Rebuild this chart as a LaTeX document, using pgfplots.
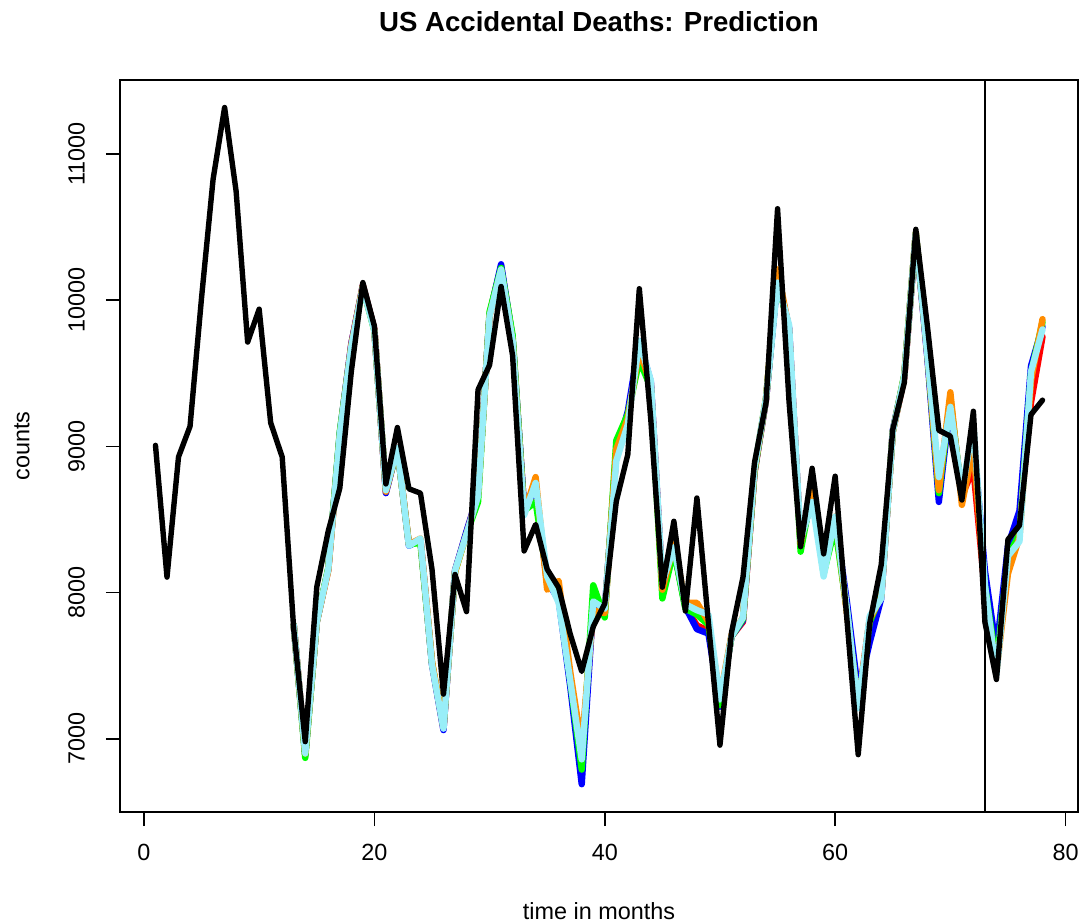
\documentclass[border=0pt]{standalone}
\usepackage{fontspec}
\setmainfont{Liberation Sans}
\usepackage{pgfplots}
\usepackage{pgfplotstable}
\pgfplotsset{compat=1.18}

\definecolor{rred}{RGB}{255,0,0}
\definecolor{rblue}{RGB}{0,0,255}
\definecolor{rgreen}{RGB}{0,255,0}
\definecolor{rorange}{RGB}{255,140,0}
\definecolor{rcyan}{RGB}{152,238,248}

% monthly US accidental deaths, 1973--1979 (first six months of 1979 held out)
\pgfplotstableread{
x y
1 9007
2 8106
3 8928
4 9137
5 10017
6 10826
7 11317
8 10744
9 9713
10 9938
11 9161
12 8927
13 7750
14 6981
15 8038
16 8422
17 8714
18 9512
19 10120
20 9823
21 8743
22 9129
23 8710
24 8680
25 8162
26 7306
27 8124
28 7870
29 9387
30 9556
31 10093
32 9620
33 8285
34 8466
35 8160
36 8034
37 7717
38 7461
39 7767
40 7925
41 8623
42 8945
43 10078
44 9179
45 8037
46 8488
47 7874
48 8647
49 7792
50 6957
51 7726
52 8106
53 8890
54 9299
55 10625
56 9302
57 8314
58 8850
59 8265
60 8796
61 7836
62 6892
63 7791
64 8192
65 9115
66 9434
67 10484
68 9827
69 9110
70 9070
71 8633
72 9240
73 7798
74 7406
75 8363
76 8460
77 9217
78 9316
}\observed

% fitted values and forecasts of the competing models
\pgfplotstableread{
x cyan red blue green orange
13 7780 7780 7780 7780 7780
14 6900 6890 6890 6870 6900
15 7800 7800 7800 7800 7800
16 8160 8160 8160 8170 8150
17 9080 9080 9090 9100 9070
18 9680 9700 9700 9680 9690
19 10090 10100 10100 10090 10100
20 9790 9800 9800 9790 9800
21 8700 8690 8680 8700 8690
22 8990 8990 8990 8980 8990
23 8320 8330 8320 8330 8330
24 8370 8360 8360 8340 8370
25 7510 7520 7510 7520 7530
26 7070 7070 7060 7080 7080
27 8150 8150 8150 8140 8140
28 8400 8410 8420 8400 8400
29 8660 8670 8670 8620 8670
30 9890 9900 9900 9920 9890
31 10210 10230 10245 10220 10200
32 9720 9730 9740 9760 9720
33 8530 8580 8580 8560 8540
34 8750 8700 8710 8620 8790
35 8110 8060 8080 8100 8020
36 7930 8000 7950 7960 8080
37 7400 7420 7360 7400 7460
38 6860 6870 6690 6790 6950
39 7940 7900 7920 8050 7880
40 7890 7850 7880 7830 7860
41 8900 8950 8960 9040 8980
42 9150 9200 9240 9220 9190
43 9720 9700 9720 9590 9660
44 9450 9430 9440 9400 9420
45 8070 8050 8040 7960 8020
46 8310 8300 8300 8290 8330
47 7920 7900 7900 7890 7930
48 7880 7775 7750 7850 7930
49 7850 7740 7720 7780 7800
50 7270 7230 7220 7230 7280
51 7700 7700 7700 7700 7710
52 7830 7800 7810 7820 7830
53 8850 8820 8830 8830 8840
54 9330 9320 9320 9330 9330
55 10120 10170 10150 10170 10210
56 9830 9800 9810 9770 9800
57 8360 8330 8330 8280 8330
58 8620 8680 8660 8700 8730
59 8110 8140 8150 8130 8140
60 8520 8500 8500 8450 8520
61 7900 7880 7950 7890 7880
62 7210 7250 7320 7220 7220
63 7840 7820 7660 7800 7820
64 7960 7980 7960 7990 7970
65 9100 9100 9110 9100 9100
66 9480 9470 9480 9490 9480
67 10460 10460 10450 10460 10460
68 9630 9620 9610 9640 9640
69 8790 8700 8620 8680 8700
70 9270 9300 9300 9330 9370
71 8690 8660 8650 8650 8600
72 9150 8850 9050 9050 9000
73 8050 8000 8150 8050 8000
74 7440 7480 7600 7500 7460
75 8250 8200 8320 8250 8130
76 8350 8500 8560 8400 8380
77 9510 9300 9550 9500 9450
78 9800 9750 9820 9850 9870
}\fits

\begin{document}
\begin{tikzpicture}
\path[use as bounding box] (0bp,0bp) rectangle (540.5bp,461.5bp);
\begin{axis}[
  at={(60bp,55.5bp)}, anchor=south west,
  scale only axis, width=479bp, height=366bp,
  xmin=-2.08, xmax=81.08, ymin=6500, ymax=11505,
  axis line style={line width=0.8bp},
  xtick={0,20,40,60,80},
  ytick={7000,8000,9000,10000,11000},
  scaled ticks=false,
  tick align=outside,
  major tick length=7bp,
  every tick/.style={black, line width=0.8bp},
  xtick pos=bottom, ytick pos=left,
  /pgf/number format/assume math mode=true,
  /pgf/number format/set thousands separator={},
  tick label style={font=\fontsize{11.7bp}{14bp}\selectfont},
  xticklabel style={anchor=north, yshift=-5.5bp},
  yticklabel style={rotate=90, anchor=south},
  yticklabel shift={7bp},
  clip=true,
  every axis plot/.append style={line join=round, line cap=round},
]
\addplot[rred, line width=3.2bp] table[x=x, y=red] {\fits};
\addplot[rblue, line width=3.2bp] table[x=x, y=blue] {\fits};
\addplot[rgreen, line width=3.2bp] table[x=x, y=green] {\fits};
\addplot[rorange, line width=3.2bp] table[x=x, y=orange] {\fits};
\addplot[rcyan, line width=3.2bp] table[x=x, y=cyan] {\fits};
\addplot[black, line width=2.7bp] table[x=x, y=y] {\observed};
\draw[black, line width=0.8bp] (axis cs:73,6500) -- (axis cs:73,11505);
\end{axis}
\node[font=\fontsize{13.8bp}{16bp}\selectfont\bfseries] at (299.5bp,450.5bp) {US Accidental Deaths: Prediction};
\node[font=\fontsize{11.7bp}{14bp}\selectfont] at (299.5bp,6bp) {time in months};
\node[font=\fontsize{11.7bp}{14bp}\selectfont, rotate=90] at (11bp,238.5bp) {counts};
\end{tikzpicture}
\end{document}
